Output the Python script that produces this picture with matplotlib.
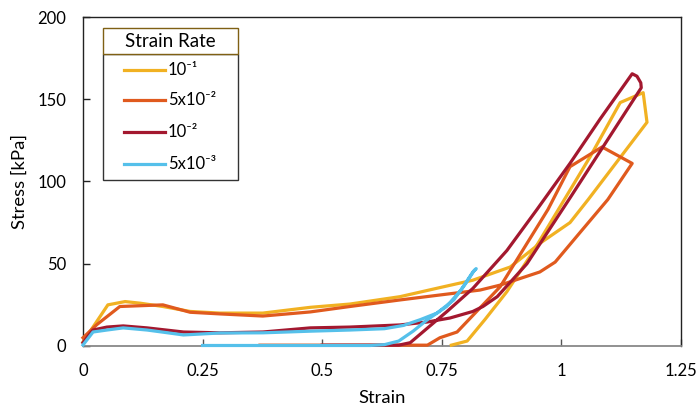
import matplotlib
matplotlib.use("Agg")
import matplotlib.pyplot as plt
from matplotlib.patches import Rectangle

plt.rcParams['font.family'] = ['Lato', 'DejaVu Sans']

# strain rate labels and line colours
rates = ['10⁻¹', '5x10⁻²', '10⁻²', '5x10⁻³']
colors = ['#F1B122', '#E05A1E', '#A3182F', '#55C0EA']

# 10^-1
strain_1 = [0, 0.052, 0.088, 0.12, 0.167, 0.224, 0.286, 0.376, 0.475, 0.558, 0.663, 0.746,
            0.815, 0.893, 0.956, 1.018, 1.056, 1.179, 1.171, 1.123, 1.06, 1.0, 0.94, 0.886,
            0.84, 0.803, 0.77]
stress_1 = [2.4, 25, 27, 26, 24, 21, 20, 20, 23.5, 25.5, 30, 35.5,
            40, 48, 62.6, 75, 89, 136, 154, 148, 115, 86, 57, 33,
            16, 3, 0.5]

# 5x10^-2
strain_2 = [0, 0.029, 0.077, 0.167, 0.224, 0.286, 0.376, 0.475, 0.558, 0.663, 0.746, 0.83,
            0.872, 0.955, 0.987, 1.039, 1.097, 1.148, 1.085, 1.018, 0.972, 0.872, 0.782,
            0.746, 0.72, 0.37]
stress_2 = [5, 13, 24, 25, 20.5, 19.5, 18.2, 20.7, 24, 28, 31, 34,
            37, 45, 51, 69, 89, 111, 121, 109, 83, 36, 8.5,
            5, 0.5, 0.5]

# 10^-2
strain_3 = [0, 0.021, 0.05, 0.084, 0.134, 0.21, 0.286, 0.376, 0.475, 0.558, 0.663, 0.72,
            0.767, 0.815, 0.836, 0.866, 0.928, 1.018, 1.167, 1.166, 1.158, 1.148, 1.081,
            1.018, 0.949, 0.886, 0.815, 0.761, 0.684, 0.66, 0.5]
stress_3 = [2, 9.7, 11.5, 12.2, 11, 8.5, 8, 8.5, 11, 11.5, 12.8, 14.6,
            17, 21, 24, 30, 50, 90, 157, 160, 164, 165.5, 138,
            111, 83, 58, 35, 21, 2, 0.5, 0.5]

# 5x10^-3
strain_4 = [0, 0.021, 0.05, 0.084, 0.134, 0.18, 0.21, 0.286, 0.376, 0.475, 0.558, 0.63,
            0.67, 0.705, 0.74, 0.775, 0.80, 0.818, 0.822, 0.815, 0.79, 0.76, 0.72, 0.69,
            0.66, 0.63, 0.6, 0.25]
stress_4 = [0.6, 8.5, 9.7, 11, 9.7, 7.9, 6.7, 7.9, 8, 9, 9.7, 10.5,
            12.5, 16, 20, 28, 38, 46, 47, 45, 34, 24, 16, 9,
            3, 0.8, 0.3, 0.3]

strains = [strain_1, strain_2, strain_3, strain_4]
stresses = [stress_1, stress_2, stress_3, stress_4]

fig = plt.figure(figsize=(6.98, 4.08), dpi=100)
ax = fig.add_axes([0.1189, 0.152, 0.8567, 0.8063])

for x, y, c in zip(strains, stresses, colors):
    ax.plot(x, y, color=c, lw=2.3, solid_joinstyle='round', clip_on=False, zorder=3)

ax.set_xlim(0, 1.25)
ax.set_ylim(0, 200)
ax.set_xticks([0, 0.25, 0.5, 0.75, 1, 1.25])
ax.set_xticklabels(['0', '0.25', '0.5', '0.75', '1', '1.25'])
ax.set_yticks([0, 50, 100, 150, 200])
ax.tick_params(axis='both', direction='in', length=5, width=1, labelsize=12)
ax.tick_params(axis='y', pad=12, color='#222222')
ax.tick_params(axis='x', pad=12, color='#555555')

for side in ['left', 'top', 'right']:
    ax.spines[side].set_color('#222222')
    ax.spines[side].set_linewidth(1.0)
ax.spines['bottom'].set_color('#888888')
ax.spines['bottom'].set_linewidth(1.3)

ax.set_xlabel('Strain', fontsize=13.3, labelpad=8)
ax.set_ylabel('Stress [kPa]', fontsize=13.3, labelpad=7)

# legend box with a framed title row
x0, x1 = 0.0334, 0.259
yb, yt, ysep = 0.5046, 0.9666, 0.8875
ax.add_patch(Rectangle((x0, yb), x1 - x0, ysep - yb, transform=ax.transAxes,
                       fill=True, facecolor='white', edgecolor='#333333', lw=1.0, zorder=5))
ax.add_patch(Rectangle((x0, ysep), x1 - x0, yt - ysep, transform=ax.transAxes,
                       fill=True, facecolor='white', edgecolor='#7F6014', lw=1.0, zorder=6))
ax.text((x0 + x1) / 2, (ysep + yt) / 2, 'Strain Rate', transform=ax.transAxes,
        ha='center', va='center', fontsize=13.5, zorder=7)
for i, (lab, c) in enumerate(zip(rates, colors)):
    ypos = [0.839, 0.748, 0.650, 0.553][i]
    ax.plot([0.0686, 0.137], [ypos, ypos], transform=ax.transAxes, color=c, lw=2.3,
            zorder=7, clip_on=False)
    ax.text(0.142, ypos, lab, transform=ax.transAxes, ha='left', va='center',
            fontsize=12, zorder=7)

fig.savefig('out.png', dpi=100)
